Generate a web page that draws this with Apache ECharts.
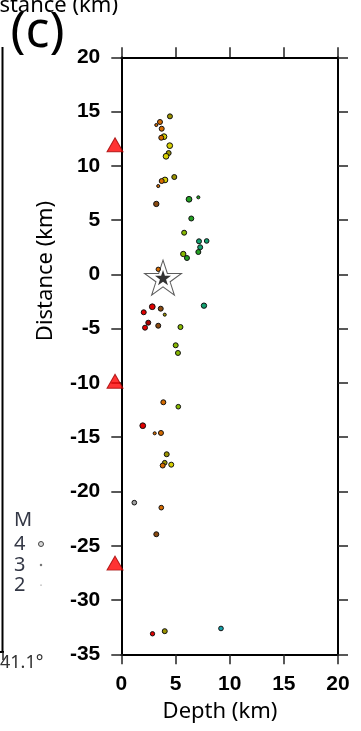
<!DOCTYPE html>
<html>
<head>
<meta charset="utf-8">
<script src="https://cdn.jsdelivr.net/npm/echarts@6/dist/echarts.min.js"></script>
<style>
  html, body { margin: 0; padding: 0; background: #fff; }
  #chart { width: 361px; height: 731px; }
</style>
</head>
<body>
<div id="chart"></div>
<script>
// Hypocentres projected onto the depth / along-strike distance section
const depthKm = [
  4.49, 3.57, 3.23, 3.73, 3.94, 3.69, 4.47, 4.37, 4.13, 4.89,
  4.03, 3.73, 3.41, 3.23, 6.25, 7.11, 6.46, 5.80, 7.17, 7.88,
  7.28, 7.11, 5.72, 6.06, 3.41, 7.63, 2.86, 2.07, 3.64, 4.01,
  2.49, 2.19, 3.41, 5.46, 5.02, 5.23, 3.88, 5.26, 1.98, 3.08,
  3.66, 4.19, 4.01, 3.82, 4.61, 1.20, 3.69, 3.23, 2.88, 4.01,
  9.20
];
const distanceKm = [
  14.56, 14.04, 13.76, 13.42, 12.69, 12.59, 11.86, 11.18, 10.88, 8.97,
  8.70, 8.60, 8.14, 6.49, 6.92, 7.10, 5.15, 3.84, 3.05, 3.08,
  2.50, 2.06, 1.88, 1.51, 0.47, -2.88, -2.98, -3.49, -3.16, -3.71,
  -4.45, -4.91, -4.73, -4.85, -6.53, -7.24, -11.78, -12.19, -13.94, -14.64,
  -14.61, -16.57, -17.35, -17.61, -17.53, -21.03, -21.49, -23.94, -33.11, -32.87,
  -32.62
];
const magnitude = [
  4.0, 4.0, 3.3, 4.0, 4.2, 4.0, 4.2, 4.0, 4.2, 4.0,
  4.2, 4.0, 3.3, 4.1, 4.2, 3.3, 4.0, 4.0, 4.0, 3.9,
  4.0, 4.0, 4.1, 4.0, 3.8, 4.1, 4.2, 4.0, 4.0, 3.3,
  4.0, 4.0, 4.0, 4.0, 4.0, 4.0, 4.0, 3.9, 4.2, 3.3,
  4.0, 4.0, 3.9, 4.0, 4.0, 3.9, 3.9, 4.0, 3.8, 4.0,
  3.9
];
// time bin of each event (0 = earliest)
const period = [
  4, 3, 3, 3, 5, 3, 5, 4, 5, 4,
  5, 3, 3, 2, 7, 7, 7, 6, 8, 8,
  8, 7, 6, 7, 3, 8, 0, 0, 2, 4,
  1, 0, 2, 6, 6, 6, 3, 6, 0, 3,
  3, 4, 4, 3, 5, 10, 3, 2, 0, 4,
  9
];
const periodColours = [
  '#e00000', '#a80000', '#8a4a10', '#d46a00', '#9a9200', '#d6cf00',
  '#86b800', '#22a022', '#12a070', '#14a0a8', '#a0a0a0'
];

// Seismic stations plotted at the surface edge of the section
const stationDistanceKm = [11.95, -9.85, -26.6];
const stationDepthKm = [-0.58, -0.58, -0.58];

// Mainshock
const mainshockDepthKm = [3.85];
const mainshockDistanceKm = [-0.3];

const depthTicks = [0, 5, 10, 15, 20];
const distanceTicks = [20, 15, 10, 5, 0, -5, -10, -15, -20, -25, -30, -35];
const legendMagnitudes = [4, 3, 2];

const sizeForMag = m => 1.25 * Math.pow(2, m - 2);

// five-pointed star outline as an SVG path
function starPath() {
  const pts = [];
  for (let i = 0; i < 10; i++) {
    const a = -Math.PI / 2 + i * Math.PI / 5;
    const r = i % 2 ? 38.2 : 100;
    pts.push((100 + r * Math.cos(a)).toFixed(2) + ' ' + (100 + r * Math.sin(a)).toFixed(2));
  }
  return 'path://M' + pts.join(' L') + ' Z';
}
const STAR = starPath();

const events = depthKm.map((d, i) => [d, distanceKm[i], magnitude[i], period[i]]);
const stations = stationDepthKm.map((d, i) => [d, stationDistanceKm[i]]);
const mainshock = mainshockDepthKm.map((d, i) => [d, mainshockDistanceKm[i]]);

const tickFont = { fontFamily: 'Liberation Sans', fontWeight: 'bold', fontSize: 21, color: '#000' };
const nameFont = '22px "Noto Sans"';

const baseAxis = {
  axisLine: { show: true, onZero: false, lineStyle: { color: '#000', width: 2 } },
  axisTick: { show: true, inside: false, length: 10, lineStyle: { color: '#222', width: 1.5 } },
  splitLine: { show: false }
};

const chart = echarts.init(document.getElementById('chart'), null, { renderer: 'canvas' });

const legendGraphics = [];
legendGraphics.push({ type: 'text', left: 14, top: 510,
  style: { text: 'M', font: '20px "Noto Sans"', fill: '#343846' } });
const legendY = [544, 565, 585];
legendMagnitudes.forEach((m, i) => {
  legendGraphics.push({ type: 'text', left: 14, top: legendY[i] - 10,
    style: { text: String(m), font: '20px "Noto Sans"', fill: '#343846' } });
  legendGraphics.push({ type: 'circle', shape: { cx: 41, cy: legendY[i], r: sizeForMag(m) / 2 },
    style: { fill: m === 4 ? '#d8d8d8' : '#777', stroke: m === 4 ? '#444' : null, lineWidth: 1 } });
});

chart.setOption({
  animation: false,
  backgroundColor: '#fff',
  grid: { left: 121.3, right: 23, top: 57.3, bottom: 76.7, containLabel: false },
  xAxis: [
    Object.assign({}, baseAxis, {
      type: 'value', position: 'bottom',
      min: depthTicks[0], max: depthTicks[depthTicks.length - 1], interval: 5,
      axisLabel: Object.assign({ margin: 19 }, tickFont)
    }),
    Object.assign({}, baseAxis, {
      type: 'value', position: 'top',
      min: depthTicks[0], max: depthTicks[depthTicks.length - 1], interval: 5,
      axisLabel: { show: false }
    })
  ],
  yAxis: [
    Object.assign({}, baseAxis, {
      type: 'value', position: 'left',
      min: distanceTicks[distanceTicks.length - 1], max: distanceTicks[0], interval: 5,
      axisLabel: Object.assign({ margin: 21 }, tickFont)
    }),
    Object.assign({}, baseAxis, {
      type: 'value', position: 'right',
      min: distanceTicks[distanceTicks.length - 1], max: distanceTicks[0], interval: 5,
      axisLabel: { show: false }
    })
  ],
  visualMap: {
    type: 'piecewise', show: false, seriesIndex: 1, dimension: 3,
    pieces: periodColours.map((c, i) => ({ value: i, color: c }))
  },
  series: [
    {
      type: 'scatter', name: 'mainshock outline', data: mainshock,
      symbol: STAR, symbolSize: [37, 35.2], z: 2,
      itemStyle: { color: '#fff', borderColor: '#333', borderWidth: 1 }
    },
    {
      type: 'scatter', name: 'aftershocks', data: events, z: 3,
      symbol: 'circle',
      symbolSize: v => sizeForMag(v[2]),
      itemStyle: { borderColor: '#111', borderWidth: 1, opacity: 1 }
    },
    {
      type: 'scatter', name: 'mainshock', data: mainshock,
      symbol: STAR, symbolSize: [16, 15.2], z: 4,
      itemStyle: { color: '#000' }
    },
    {
      type: 'scatter', name: 'stations', data: stations,
      symbol: 'triangle', symbolSize: [16, 14], clip: false, z: 5,
      itemStyle: { color: '#ff0000', borderColor: '#a00000', borderWidth: 1 }
    }
  ],
  graphic: [
    { type: 'text', x: 37.5, y: 33,
      style: { text: '(c)', font: '50px "Noto Sans"', fill: '#000', align: 'center', verticalAlign: 'middle' } },
    { type: 'text', x: 118, y: 6,
      style: { text: 'Distance (km)', font: nameFont, fill: '#000', align: 'right', verticalAlign: 'middle' } },
    { type: 'text', x: 46, y: 271, rotation: Math.PI / 2,
      style: { text: 'Distance (km)', font: nameFont, fill: '#000', align: 'center', verticalAlign: 'middle' } },
    { type: 'text', x: 220, y: 712,
      style: { text: 'Depth (km)', font: nameFont, fill: '#000', align: 'center', verticalAlign: 'middle' } },
    { type: 'text', x: 0, y: 663,
      style: { text: '41.1°', font: '18px "Noto Sans"', fill: '#333', align: 'left', verticalAlign: 'middle' } },
    { type: 'line', shape: { x1: 2.5, y1: 47, x2: 2.5, y2: 652 }, style: { stroke: '#000', lineWidth: 2 } },
    { type: 'line', shape: { x1: 0, y1: 652, x2: 4, y2: 652 }, style: { stroke: '#000', lineWidth: 2 } },
    { type: 'line', shape: { x1: 3, y1: 652, x2: 3, y2: 660 }, style: { stroke: '#222', lineWidth: 1.5 } }
  ].concat(legendGraphics)
});
</script>
</body>
</html>
